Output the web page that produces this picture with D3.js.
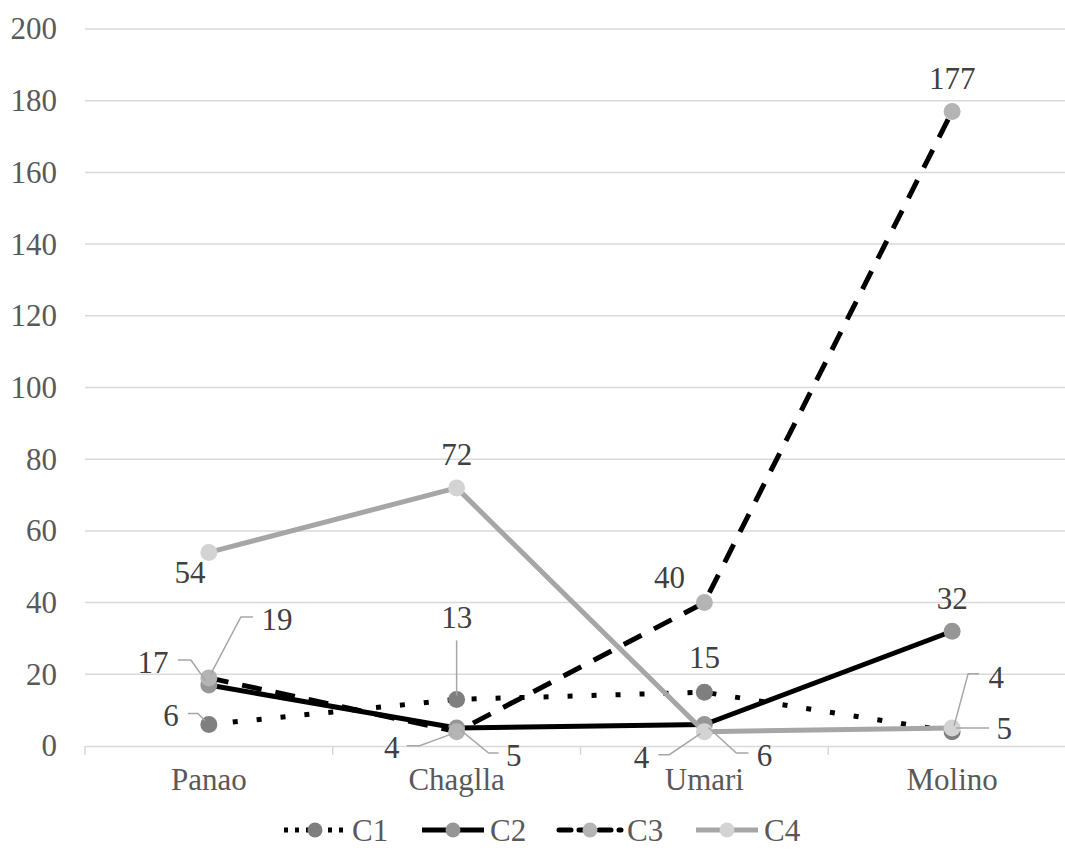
<!DOCTYPE html>
<html><head><meta charset="utf-8">
<script src="https://cdn.jsdelivr.net/npm/d3@7"></script>
<style>body{margin:0;background:#fff;overflow:hidden} svg text{font-family:"Liberation Serif","Tinos","Times New Roman","DejaVu Serif",serif;}</style>
</head><body><svg id="chart" width="1065" height="855"></svg>
<script>
// ---- data ----
const categories = ["Panao", "Chaglla", "Umari", "Molino"];
const seriesNames = ["C1", "C2", "C3", "C4"];
const c1Values = [6, 13, 15, 4];
const c2Values = [17, 5, 6, 32];
const c3Values = [19, 4, 40, 177];
const c4Values = [54, 72, 4, 5];
const yTickValues = [0, 20, 40, 60, 80, 100, 120, 140, 160, 180, 200];

// ---- styles ----
const styles = {
  C1: {stroke: "#000", width: 5, dash: "5 19", marker: "#7f7f7f", legendDash: "4 7"},
  C2: {stroke: "#000", width: 5, dash: null, marker: "#969696", legendDash: null},
  C3: {stroke: "#000", width: 5, dash: "20 14", marker: "#b4b4b4", legendDash: "12 8"},
  C4: {stroke: "#a6a6a6", width: 5, dash: null, marker: "#d3d3d3", legendDash: null}
};
// label offsets (px, relative to marker) and leader-line points
const labelLayout = {
  C1: [{dx:-38,dy:-9,leader:[[-4,-4],[-11,-11],[-21,-11]]},
       {dx:0,dy:-82,leader:[[0,-4],[0,-59]]},
       {dx:0,dy:-35},
       {dx:44,dy:-54,leader:[[2,-6],[16,-58],[27,-58]]}],
  C2: [{dx:-56,dy:-23,leader:[[-3,-4],[-18,-25],[-31,-25]]},
       {dx:57,dy:27,leader:[[4,2],[32,25],[42,25]]},
       {dx:60,dy:31,leader:[[4,3],[32,28.5],[44,28.5]]},
       {dx:0,dy:-33}],
  C3: [{dx:68,dy:-58,leader:[[2,-4],[32,-61],[44,-61]]},
       {dx:-65,dy:16,leader:[[-4,2],[-37,14],[-50,14]]},
       {dx:-35,dy:-25},
       {dx:0,dy:-33}],
  C4: [{dx:-19,dy:20},
       {dx:0,dy:-33},
       {dx:-63,dy:26,leader:[[-4,2],[-35,23],[-46,23]]},
       {dx:52,dy:0,leader:[[4,0],[37,0]]}]
};

const series = [
  {name: "C1", values: c1Values},
  {name: "C2", values: c2Values},
  {name: "C3", values: c3Values},
  {name: "C4", values: c4Values}
];

const FS = 31;
const svg = d3.select("#chart");
const x = d3.scaleBand().domain(categories).range([85, 1076]).paddingInner(0).paddingOuter(0);
const xc = c => x(c) + x.bandwidth() / 2;
const y = d3.scaleLinear().domain([0, 200]).range([746, 29]);

// gridlines
svg.append("g").selectAll("line").data(yTickValues.filter(v => v > 0)).join("line")
  .attr("x1", 85).attr("x2", 1076)
  .attr("y1", d => y(d)).attr("y2", d => y(d))
  .attr("stroke", "#d9d9d9").attr("stroke-width", 1.5);

// y axis labels
const yAxis = svg.append("g").attr("transform", "translate(85,0)")
  .call(d3.axisLeft(y).tickValues(yTickValues).tickSize(0).tickPadding(28));
yAxis.attr("font-family", null).attr("font-size", null);
yAxis.select(".domain").remove();
yAxis.selectAll("text").style("font-size", FS + "px").attr("fill", "#595959");

// x axis
const xAxis = svg.append("g").attr("transform", "translate(0,746)")
  .call(d3.axisBottom(x).tickSize(0).tickPadding(22));
xAxis.attr("font-family", null).attr("font-size", null);
xAxis.select(".domain").attr("stroke", "#d9d9d9").attr("stroke-width", 1.5);
xAxis.selectAll("text").style("font-size", FS + "px").attr("fill", "#595959");
// category boundary ticks
svg.append("g").selectAll("line").data(categories.map(c => x(c)).concat([x(categories[categories.length-1]) + x.bandwidth()]))
  .join("line").attr("x1", d => d).attr("x2", d => d).attr("y1", 746).attr("y2", 755)
  .attr("stroke", "#d9d9d9").attr("stroke-width", 1.5);

// series
const line = d3.line().x((d, i) => xc(categories[i])).y(d => y(d));
series.forEach(s => {
  const st = styles[s.name];
  const g = svg.append("g");
  g.append("path").datum(s.values).attr("d", line)
    .attr("fill", "none").attr("stroke", st.stroke).attr("stroke-width", st.width)
    .attr("stroke-dasharray", st.dash).attr("stroke-linejoin", "round");
  g.selectAll("circle").data(s.values).join("circle")
    .attr("cx", (d, i) => xc(categories[i])).attr("cy", d => y(d)).attr("r", 8.5)
    .attr("fill", st.marker);
});

// labels
series.forEach(s => {
  const g = svg.append("g");
  s.values.forEach((v, i) => {
    const lay = labelLayout[s.name][i];
    const cx = xc(categories[i]), cy = y(v);
    if (lay.leader) {
      g.append("polyline")
        .attr("points", lay.leader.map(p => (cx + p[0]) + "," + (cy + p[1])).join(" "))
        .attr("fill", "none").attr("stroke", "#a6a6a6").attr("stroke-width", 1.5);
    }
    g.append("text").attr("x", cx + lay.dx).attr("y", cy + lay.dy)
      .attr("text-anchor", "middle").attr("dominant-baseline", "central")
      .style("font-size", FS + "px").attr("fill", "#404040")
      .text(v);
  });
});

// legend
const legendX = [284, 422, 559, 696];
const legendY = 830;
series.forEach((s, i) => {
  const st = styles[s.name];
  const g = svg.append("g").attr("transform", `translate(${legendX[i]},${legendY})`);
  g.append("line").attr("x1", 0).attr("x2", 62).attr("y1", 0).attr("y2", 0)
    .attr("stroke", st.stroke).attr("stroke-width", 5).attr("stroke-dasharray", st.legendDash)
    .attr("stroke-linecap", s.name === "C3" ? "round" : "butt");
  g.append("circle").attr("cx", 31).attr("cy", 0).attr("r", 7.5).attr("fill", st.marker);
  g.append("text").attr("x", 68).attr("y", 0).attr("dominant-baseline", "central")
    .style("font-size", FS + "px").attr("fill", "#595959").text(s.name);
});
</script></body></html>
